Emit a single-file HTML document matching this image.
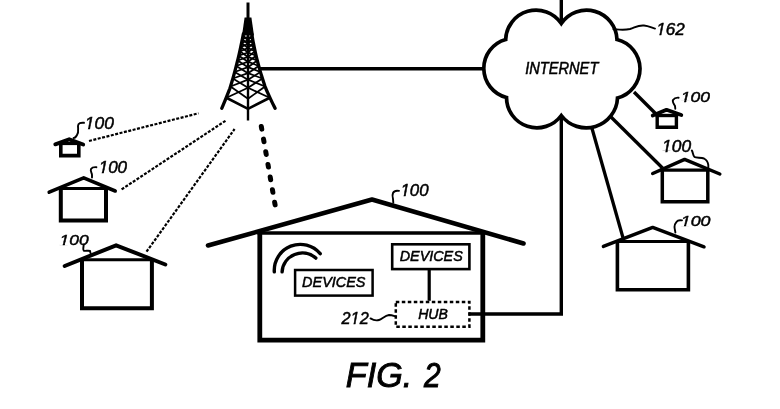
<!DOCTYPE html>
<html><head><meta charset="utf-8"><style>html,body{margin:0;padding:0;background:#fff;overflow:hidden}svg{display:block;will-change:transform}</style></head>
<body><svg width="780" height="409" viewBox="0 0 780 409" stroke="#000" fill="none"><defs><clipPath id="clip212"><path d="M-1000,-1000 L2000,-1000 L2000,1000 L-1000,1000 Z M52.6,-13 L76.70,-13 L72.50,8 L52.6,8 Z M88.60,-13 L107.6,-13 L107.6,8 L84.40,8 Z" clip-rule="evenodd"/></clipPath><clipPath id="clip162"><path d="M-1000,-1000 L2000,-1000 L2000,1000 L-1000,1000 Z M-3.0,-13 L21.10,-13 L16.90,8 L-3.0,8 Z M33.00,-13 L52.0,-13 L52.0,8 L28.80,8 Z" clip-rule="evenodd"/></clipPath><clipPath id="clip100"><path d="M-1000,-1000 L2000,-1000 L2000,1000 L-1000,1000 Z M-3.0,-13 L21.10,-13 L16.90,8 L-3.0,8 Z M33.00,-13 L52.0,-13 L52.0,8 L28.80,8 Z" clip-rule="evenodd"/></clipPath></defs><line x1="248.00" y1="2.50" x2="248.00" y2="20.00" stroke-width="3" />
<polygon points="244.6,17.5 251.4,17.5 254,35.5 242,35.5" fill="#000" stroke="none"/>
<polyline points="243.33,34.00 242.86,36.48 242.38,38.95 241.89,41.43 241.38,43.91 240.86,46.38 240.33,48.86 239.78,51.34 239.22,53.81 238.64,56.29 238.05,58.77 237.45,61.24 236.83,63.72 236.20,66.20 235.56,68.67 234.90,71.15 234.23,73.63 233.54,76.10 232.84,78.58 232.13,81.06 231.40,83.53 230.66,86.01 229.87,88.49 228.91,90.96 227.93,93.44 226.93,95.92 225.93,98.39 224.91,100.87 223.87,103.35 222.83,105.82 221.76,108.30" stroke-width="3.3" fill="none" stroke-linecap="round"/>
<polyline points="251.81,34.00 252.21,36.48 252.64,38.95 253.09,41.43 253.57,43.91 254.06,46.38 254.58,48.86 255.11,51.34 255.67,53.81 256.25,56.29 256.86,58.77 257.48,61.24 258.13,63.72 258.79,66.20 259.48,68.67 260.19,71.15 260.92,73.63 261.68,76.10 262.45,78.58 263.25,81.06 264.07,83.53 264.90,86.01 265.80,88.49 266.89,90.96 267.99,93.44 269.11,95.92 270.26,98.39 271.42,100.87 272.61,103.35 273.82,105.82 275.06,108.30" stroke-width="3.3" fill="none" stroke-linecap="round"/>
<line x1="248.00" y1="30.00" x2="248.00" y2="120.50" stroke-width="2.4" />
<polyline points="226.89,98.00 248.00,108.80 269.27,98.00" stroke-width="2.6" fill="none" />
<line x1="243.05" y1="35.50" x2="248.00" y2="40.40" stroke-width="1.8" />
<line x1="248.00" y1="36.70" x2="242.33" y2="39.20" stroke-width="1.8" />
<line x1="252.05" y1="35.50" x2="248.00" y2="40.40" stroke-width="1.8" />
<line x1="248.00" y1="36.70" x2="252.69" y2="39.20" stroke-width="1.8" />
<line x1="242.33" y1="39.20" x2="248.00" y2="44.10" stroke-width="1.8" />
<line x1="248.00" y1="40.40" x2="241.59" y2="42.90" stroke-width="1.8" />
<line x1="252.69" y1="39.20" x2="248.00" y2="44.10" stroke-width="1.8" />
<line x1="248.00" y1="40.40" x2="253.37" y2="42.90" stroke-width="1.8" />
<line x1="241.59" y1="42.90" x2="248.00" y2="48.10" stroke-width="1.8" />
<line x1="248.00" y1="44.10" x2="240.75" y2="46.90" stroke-width="1.8" />
<line x1="253.37" y1="42.90" x2="248.00" y2="48.10" stroke-width="1.8" />
<line x1="248.00" y1="44.10" x2="254.17" y2="46.90" stroke-width="1.8" />
<line x1="240.75" y1="46.90" x2="248.00" y2="52.50" stroke-width="1.8" />
<line x1="248.00" y1="48.10" x2="239.79" y2="51.30" stroke-width="1.8" />
<line x1="254.17" y1="46.90" x2="248.00" y2="52.50" stroke-width="1.8" />
<line x1="248.00" y1="48.10" x2="255.11" y2="51.30" stroke-width="1.8" />
<line x1="239.79" y1="51.30" x2="248.00" y2="56.90" stroke-width="1.8" />
<line x1="248.00" y1="52.50" x2="238.78" y2="55.70" stroke-width="1.8" />
<line x1="255.11" y1="51.30" x2="248.00" y2="56.90" stroke-width="1.8" />
<line x1="248.00" y1="52.50" x2="256.11" y2="55.70" stroke-width="1.8" />
<line x1="238.78" y1="55.70" x2="248.00" y2="61.70" stroke-width="1.8" />
<line x1="248.00" y1="56.90" x2="237.63" y2="60.50" stroke-width="1.8" />
<line x1="256.11" y1="55.70" x2="248.00" y2="61.70" stroke-width="1.8" />
<line x1="248.00" y1="56.90" x2="257.29" y2="60.50" stroke-width="1.8" />
<line x1="237.63" y1="60.50" x2="248.00" y2="67.20" stroke-width="1.8" />
<line x1="248.00" y1="61.70" x2="236.25" y2="66.00" stroke-width="1.8" />
<line x1="257.29" y1="60.50" x2="248.00" y2="67.20" stroke-width="1.8" />
<line x1="248.00" y1="61.70" x2="258.74" y2="66.00" stroke-width="1.8" />
<line x1="236.25" y1="66.00" x2="248.00" y2="73.20" stroke-width="1.8" />
<line x1="248.00" y1="67.20" x2="234.67" y2="72.00" stroke-width="1.8" />
<line x1="258.74" y1="66.00" x2="248.00" y2="73.20" stroke-width="1.8" />
<line x1="248.00" y1="67.20" x2="260.44" y2="72.00" stroke-width="1.8" />
<line x1="234.67" y1="72.00" x2="248.00" y2="79.70" stroke-width="1.8" />
<line x1="248.00" y1="73.20" x2="232.87" y2="78.50" stroke-width="1.8" />
<line x1="260.44" y1="72.00" x2="248.00" y2="79.70" stroke-width="1.8" />
<line x1="248.00" y1="73.20" x2="262.43" y2="78.50" stroke-width="1.8" />
<line x1="232.87" y1="78.50" x2="248.00" y2="87.70" stroke-width="1.8" />
<line x1="248.00" y1="79.70" x2="230.52" y2="86.50" stroke-width="1.8" />
<line x1="262.43" y1="78.50" x2="248.00" y2="87.70" stroke-width="1.8" />
<line x1="248.00" y1="79.70" x2="265.07" y2="86.50" stroke-width="1.8" />
<line x1="230.52" y1="86.50" x2="248.00" y2="98.70" stroke-width="1.8" />
<line x1="248.00" y1="87.70" x2="227.05" y2="97.50" stroke-width="1.8" />
<line x1="265.07" y1="86.50" x2="248.00" y2="98.70" stroke-width="1.8" />
<line x1="248.00" y1="87.70" x2="269.08" y2="97.50" stroke-width="1.8" />
<line x1="259.00" y1="68.80" x2="484.00" y2="68.80" stroke-width="3.6" />
<line x1="89.00" y1="141.00" x2="198.50" y2="113.30" stroke-width="2.2" stroke-dasharray="3 1.5"/>
<line x1="121.60" y1="189.40" x2="225.50" y2="120.80" stroke-width="2.2" stroke-dasharray="3 1.5"/>
<line x1="146.50" y1="251.70" x2="234.60" y2="129.00" stroke-width="2.2" stroke-dasharray="3 1.5"/>
<line x1="261.30" y1="126.50" x2="275.10" y2="204.90" stroke-width="5" stroke-dasharray="2.7 10.13" stroke-linecap="round"/>
<polyline points="55.30,144.30 69.20,139.30 83.20,144.50" stroke-width="3.9" fill="none" stroke-linecap="round" stroke-linejoin="round"/>
<line x1="59.00" y1="143.50" x2="80.60" y2="143.50" stroke-width="3.2" />
<polyline points="60.80,141.90 60.80,155.60 78.80,155.60 78.80,141.90" stroke-width="3.6" fill="none" stroke-linejoin="miter" stroke-linecap="butt"/>
<polyline points="49.20,192.20 83.70,177.80 115.20,191.00" stroke-width="3.6" fill="none" stroke-linecap="round" stroke-linejoin="round"/>
<line x1="58.80" y1="188.60" x2="108.00" y2="188.60" stroke-width="3" />
<polyline points="60.80,187.10 60.80,220.60 106.00,220.60 106.00,187.10" stroke-width="4" fill="none" stroke-linejoin="miter" stroke-linecap="butt"/>
<polyline points="64.70,266.00 116.10,245.30 165.30,264.50" stroke-width="4" fill="none" stroke-linecap="round" stroke-linejoin="round"/>
<line x1="80.00" y1="259.70" x2="153.90" y2="259.70" stroke-width="3" />
<polyline points="82.00,258.20 82.00,308.30 151.90,308.30 151.90,258.20" stroke-width="4" fill="none" stroke-linejoin="miter" stroke-linecap="butt"/>
<polyline points="208.00,245.50 372.00,199.50 523.50,243.50" stroke-width="4.6" fill="none" stroke-linecap="round" stroke-linejoin="round"/>
<line x1="257.40" y1="233.00" x2="485.20" y2="233.00" stroke-width="3.4" />
<polyline points="259.80,231.30 259.80,340.20 482.80,340.20 482.80,231.30" stroke-width="4.8" fill="none" stroke-linejoin="miter" stroke-linecap="butt"/>
<polyline points="652.70,115.50 666.50,109.80 681.30,115.00" stroke-width="3.8" fill="none" stroke-linecap="round" stroke-linejoin="round"/>
<line x1="655.50" y1="115.50" x2="678.10" y2="115.50" stroke-width="3.4" />
<polyline points="657.20,113.80 657.20,127.20 676.40,127.20 676.40,113.80" stroke-width="3.4" fill="none" stroke-linejoin="miter" stroke-linecap="butt"/>
<polyline points="652.70,173.50 684.60,159.40 719.80,174.00" stroke-width="3.5" fill="none" stroke-linecap="round" stroke-linejoin="round"/>
<line x1="660.55" y1="170.20" x2="709.55" y2="170.20" stroke-width="3.2" />
<polyline points="662.30,168.60 662.30,201.80 707.80,201.80 707.80,168.60" stroke-width="3.5" fill="none" stroke-linejoin="miter" stroke-linecap="butt"/>
<polyline points="603.40,246.40 652.70,227.40 704.00,246.80" stroke-width="3.5" fill="none" stroke-linecap="round" stroke-linejoin="round"/>
<line x1="615.60" y1="241.50" x2="690.20" y2="241.50" stroke-width="3.2" />
<polyline points="617.40,239.90 617.40,289.80 688.40,289.80 688.40,239.90" stroke-width="3.6" fill="none" stroke-linejoin="miter" stroke-linecap="butt"/>
<path d="M505.7,39.5 A30.41,30.41 0 0 1 561.30,23.50 A30.51,30.51 0 0 1 617.00,39.50 A30.18,30.18 0 0 1 617.50,98.00 A31.30,31.30 0 0 1 561.30,115.50 A30.38,30.38 0 0 1 506.50,97.50 A30.01,30.01 0 0 1 505.70,39.50 Z" stroke-width="3.7" fill="none" />
<line x1="561.30" y1="0.00" x2="561.30" y2="22.00" stroke-width="3.4" />
<polyline points="561.30,116.00 561.30,314.00 468.60,314.00" stroke-width="3.4" fill="none" stroke-linejoin="miter"/>
<line x1="634.00" y1="92.00" x2="657.00" y2="115.00" stroke-width="3.3" />
<line x1="609.50" y1="115.50" x2="662.50" y2="168.00" stroke-width="3.3" />
<line x1="591.60" y1="127.00" x2="623.50" y2="239.50" stroke-width="3.3" />
<rect x="295.10" y="270.00" width="77.50" height="25.60" stroke-width="2.5" fill="none" />
<rect x="392.20" y="244.30" width="77.20" height="24.80" stroke-width="2.6" fill="none" />
<line x1="429.20" y1="269.80" x2="429.20" y2="300.80" stroke-width="3.2" />
<rect x="395.80" y="301.90" width="73.60" height="24.80" stroke-width="2.5" fill="none" stroke-dasharray="3.5 2.5"/>
<path d="M274.3,271.8 A26,26 0 0 1 320.2,253.7" stroke-width="3.4" fill="none" stroke-linecap="round"/>
<path d="M282.1,271.8 A20.3,20.3 0 0 1 315.8,258.1" stroke-width="3.4" fill="none" stroke-linecap="round"/>
<path d="M370.5,318.4 C373,320 376,321 379,320 C382,319 385,315.5 389,315 C392,315 394,316 396,316.6" stroke-width="1.9" fill="none" stroke-linecap="round"/>
<path d="M613.5,29.2 C618,29.5 624,30.5 630,29 C636,27 638,25 644,25.5 C649,26 652,28 655,28.6" stroke-width="1.9" fill="none" stroke-linecap="round"/>
<path d="M84,122.8 C81,122.5 78,123 78,126 C78,129 79,132 77,135 C76,137 74,138 73.6,138" stroke-width="1.9" fill="none" stroke-linecap="round"/>
<path d="M96.4,167.2 C94,167 92,167.5 91,169 C90,171 92,173 92,175 L92,177.5" stroke-width="1.9" fill="none" stroke-linecap="round"/>
<path d="M83.8,244.5 C83.5,247 82.5,250 84,250.8 C86,251.2 88,250.2 90,251 L90.5,253" stroke-width="1.9" fill="none" stroke-linecap="round"/>
<path d="M399,190.9 C397,190.5 394,191 393,193 C392,195 392.5,197 393,199 L393.3,202.7" stroke-width="1.9" fill="none" stroke-linecap="round"/>
<path d="M678.6,97.7 C676,97.5 674,98.5 673,100 C672,102 674,104 675,106 L675.3,108.7" stroke-width="1.9" fill="none" stroke-linecap="round"/>
<path d="M691.8,150.4 C693,152 693,156 694.5,157 C696,158 701,157.5 704,158.5 C707,160 708,163 708.3,165 L708.3,168" stroke-width="1.9" fill="none" stroke-linecap="round"/>
<path d="M682,220.4 C680,220 677.5,220.5 676.5,221.8 C675,223.5 674.5,225 674.5,227 C674.6,229 675.2,231 675.4,232.5" stroke-width="1.9" fill="none" stroke-linecap="round"/>
<text transform="translate(302.117,287.204) scale(0.14447,0.14648)" font-size="100" font-family="Liberation Sans" font-style="italic" fill="#000" stroke="#000" stroke-width="3.44">DEVICES</text>
<text transform="translate(399.719,260.904) scale(0.14355,0.14648)" font-size="100" font-family="Liberation Sans" font-style="italic" fill="#000" stroke="#000" stroke-width="3.45">DEVICES</text>
<text transform="translate(418.127,318.806) scale(0.14098,0.14429)" font-size="100" font-family="Liberation Sans" font-style="italic" fill="#000" stroke="#000" stroke-width="3.51">HUB</text>
<text transform="translate(341.550,323.550) scale(0.16303,0.17286)" clip-path="url(#clip212)" font-size="100" font-family="Liberation Sans" font-style="italic" fill="#000" stroke="#000" stroke-width="2.98">212</text>
<text transform="translate(525.164,73.750) scale(0.14641,0.15797)" font-size="100" font-family="Liberation Sans" font-style="italic" fill="#000" stroke="#000" stroke-width="3.29">INTERNET</text>
<text transform="translate(656.158,35.177) scale(0.17086,0.17324)" clip-path="url(#clip162)" font-size="100" font-family="Liberation Sans" font-style="italic" fill="#000" stroke="#000" stroke-width="2.91">162</text>
<text transform="translate(84.809,128.588) scale(0.17434,0.16197)" clip-path="url(#clip100)" font-size="100" font-family="Liberation Sans" font-style="italic" fill="#000" stroke="#000" stroke-width="2.97">100</text>
<text transform="translate(98.664,172.678) scale(0.17039,0.17183)" clip-path="url(#clip100)" font-size="100" font-family="Liberation Sans" font-style="italic" fill="#000" stroke="#000" stroke-width="2.92">100</text>
<text transform="translate(59.618,244.595) scale(0.17368,0.15493)" clip-path="url(#clip100)" font-size="100" font-family="Liberation Sans" font-style="italic" fill="#000" stroke="#000" stroke-width="3.04">100</text>
<text transform="translate(400.492,196.281) scale(0.16842,0.16901)" clip-path="url(#clip100)" font-size="100" font-family="Liberation Sans" font-style="italic" fill="#000" stroke="#000" stroke-width="2.96">100</text>
<text transform="translate(680.809,102.202) scale(0.17434,0.14789)" clip-path="url(#clip100)" font-size="100" font-family="Liberation Sans" font-style="italic" fill="#000" stroke="#000" stroke-width="3.10">100</text>
<text transform="translate(662.118,152.194) scale(0.17368,0.15634)" clip-path="url(#clip100)" font-size="100" font-family="Liberation Sans" font-style="italic" fill="#000" stroke="#000" stroke-width="3.03">100</text>
<text transform="translate(680.754,225.502) scale(0.17829,0.14789)" clip-path="url(#clip100)" font-size="100" font-family="Liberation Sans" font-style="italic" fill="#000" stroke="#000" stroke-width="3.07">100</text>
<text transform="translate(345.826,387.008) scale(0.34134,0.34225)" font-size="100" font-family="Liberation Sans" font-style="italic" fill="#000" stroke="#000" stroke-width="2.63">FIG.</text>
<text transform="translate(423.950,387.350) scale(0.30000,0.35000)" font-size="100" font-family="Liberation Sans" font-style="italic" fill="#000" stroke="#000" stroke-width="2.77">2</text></svg></body></html>
